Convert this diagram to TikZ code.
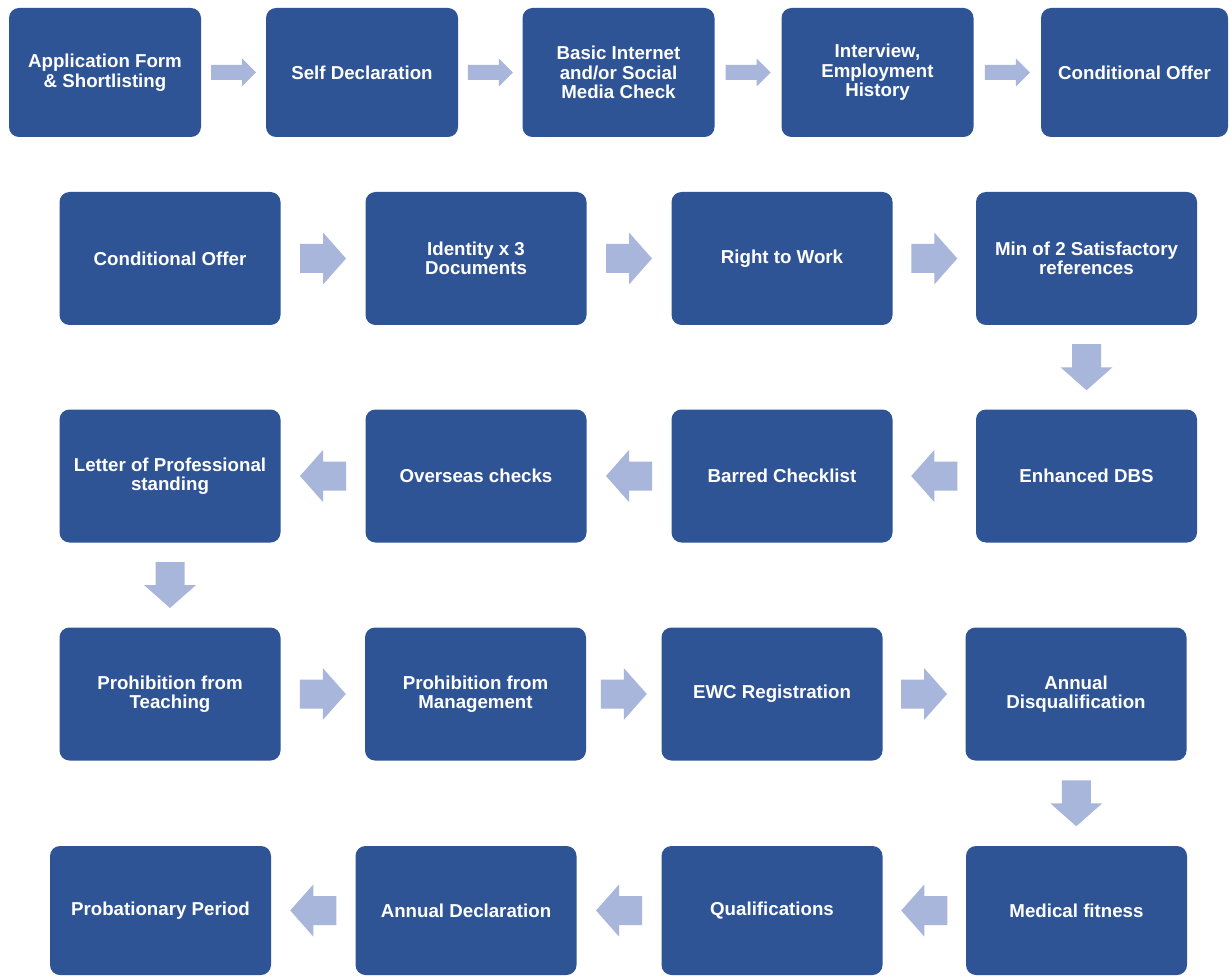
\documentclass[tikz,border=0pt]{standalone}
\usepackage{fontspec}
\setmainfont{Liberation Sans}
\usetikzlibrary{calc}
\definecolor{boxblue}{RGB}{47,84,150}
\definecolor{arrowblue}{RGB}{169,182,219}
\tikzset{
  stepnode/.style={rectangle, rounded corners=10pt, fill=boxblue, text=white,
    align=center, inner sep=2pt, font=\bfseries\fontsize{18.7}{19.5}\selectfont,
    minimum width=221pt, minimum height=133pt},
  toprow/.style={stepnode, minimum width=192pt, minimum height=129pt},
  lastrow/.style={stepnode, minimum height=129pt},
  smallarrow/.pic={\fill[arrowblue] (-22.5,-7.5) -- (8.5,-7.5) -- (8.5,-14) -- (22.5,0)
    -- (8.5,14) -- (8.5,7.5) -- (-22.5,7.5) -- cycle;},
  bigarrow/.pic={\fill[arrowblue] (-23,-14.5) -- (0,-14.5) -- (0,-26) -- (23,0)
    -- (0,26) -- (0,14.5) -- (-23,14.5) -- cycle;}
}
\begin{document}
\begin{tikzpicture}[x=1pt,y=-1pt]
\fill[white] (0,0) rectangle (1229,976);
\useasboundingbox (0,0) rectangle (1229,976);
% Row 1
\node[toprow] (a1) at (105,72.5) {Application Form\\\& Shortlisting};
\node[toprow] (a2) at (362,72.5) {Self Declaration};
\node[toprow] (a3) at (618.5,72.5) {Basic Internet\\and/or Social\\Media Check};
\node[toprow] (a4) at (877.5,72.5) {Interview,\\Employment\\History};
\node[toprow, minimum width=187pt] (a5) at (1134.5,72.5) {Conditional Offer};
% Row 2
\node[stepnode] (b1) at (170,258.5) {Conditional Offer};
\node[stepnode] (b2) at (476,258.5) {Identity x 3\\Documents};
\node[stepnode] (b3) at (782,258.5) {Right to Work};
\node[stepnode] (b4) at (1086.5,258.5) {Min of 2 Satisfactory\\references};
% Row 3
\node[stepnode] (c4) at (1086.5,476) {Enhanced DBS};
\node[stepnode] (c3) at (782,476) {Barred Checklist};
\node[stepnode] (c2) at (476,476) {Overseas checks};
\node[stepnode] (c1) at (170,476) {Letter of Professional\\standing};
% Row 4
\node[stepnode] (d1) at (170,694) {Prohibition from\\Teaching};
\node[stepnode] (d2) at (475.5,694) {Prohibition from\\Management};
\node[stepnode] (d3) at (772,694) {EWC Registration};
\node[stepnode] (d4) at (1076,694) {Annual\\Disqualification};
% Row 5
\node[lastrow] (e4) at (1076.5,910.5) {Medical fitness};
\node[lastrow] (e3) at (772,910.5) {Qualifications};
\node[lastrow] (e2) at (466,910.5) {Annual Declaration};
\node[lastrow] (e1) at (160.5,910.5) {Probationary Period};
% Arrows row 1
\pic at ($(a1.east)!.5!(a2.west)$) {smallarrow};
\pic at ($(a2.east)!.5!(a3.west)$) {smallarrow};
\pic at ($(a3.east)!.5!(a4.west)$) {smallarrow};
\pic at ($(a4.east)!.5!(a5.west)$) {smallarrow};
% Arrows row 2
\pic at ($(b1.east)!.5!(b2.west)$) {bigarrow};
\pic at ($(b2.east)!.5!(b3.west)$) {bigarrow};
\pic at ($(b3.east)!.5!(b4.west)$) {bigarrow};
\pic[rotate=-90] at ($(b4.south)!.5!(c4.north)$) {bigarrow};
% Arrows row 3
\pic[rotate=180] at ($(c4.west)!.5!(c3.east)$) {bigarrow};
\pic[rotate=180] at ($(c3.west)!.5!(c2.east)$) {bigarrow};
\pic[rotate=180] at ($(c2.west)!.5!(c1.east)$) {bigarrow};
\pic[rotate=-90] at ($(c1.south)!.5!(d1.north)$) {bigarrow};
% Arrows row 4
\pic at ($(d1.east)!.5!(d2.west)$) {bigarrow};
\pic at ($(d2.east)!.5!(d3.west)$) {bigarrow};
\pic at ($(d3.east)!.5!(d4.west)$) {bigarrow};
\pic[rotate=-90] at ($(d4.south)!.5!(e4.north)$) {bigarrow};
% Arrows row 5
\pic[rotate=180] at ($(e4.west)!.5!(e3.east)$) {bigarrow};
\pic[rotate=180] at ($(e3.west)!.5!(e2.east)$) {bigarrow};
\pic[rotate=180] at ($(e2.west)!.5!(e1.east)$) {bigarrow};
\end{tikzpicture}
\end{document}
